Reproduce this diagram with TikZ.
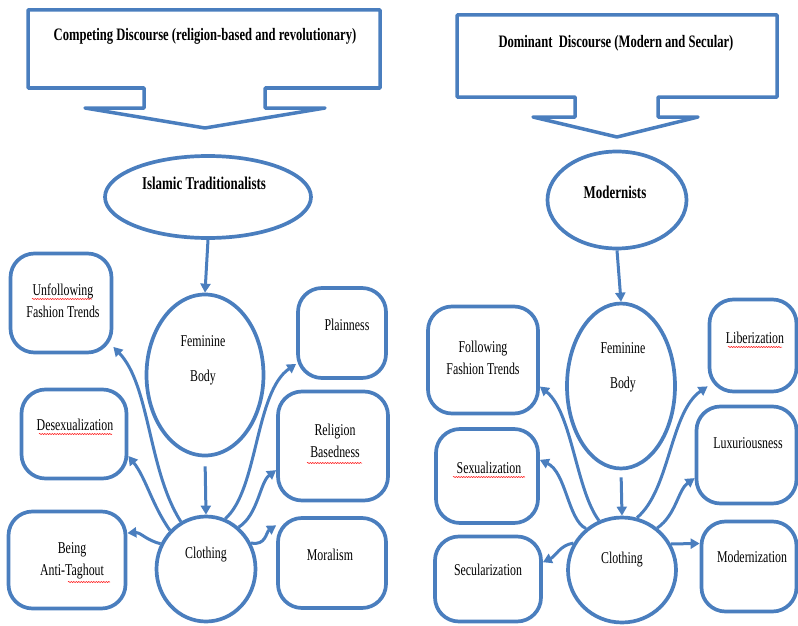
\documentclass[tikz,border=0pt]{standalone}
\usepackage{fontspec}
\setmainfont{Liberation Serif}
\newfontfamily\condfont[FakeStretch=0.72]{Liberation Serif}
\usetikzlibrary{shapes.geometric,arrows.meta,decorations.pathmorphing}
\definecolor{dblue}{RGB}{74,126,190}
\begin{document}
\begin{tikzpicture}[x=1pt,y=-1pt,
  shp/.style={draw=dblue, line width=3.5pt, line join=round},
  boxn/.style={draw=dblue, line width=3.7pt, rounded corners=24pt, inner sep=0pt},
  elln/.style={draw=dblue, line width=3.7pt, ellipse, inner sep=0pt},
  arr/.style={draw=dblue, line width=3pt, -{Triangle[length=9pt,width=10pt]}},
  ttl/.style={font=\condfont\fontsize{17.5}{20}\selectfont\bfseries, inner sep=0pt},
  lbl/.style={font=\condfont\fontsize{18}{21}\selectfont\bfseries, inner sep=0pt},
  txt/.style={font=\condfont\fontsize{16.5}{22}\selectfont, align=center, inner sep=0pt},
  squig/.style={draw=red, line width=0.5pt, decorate, decoration={snake, amplitude=0.6pt, segment length=2.5pt}}
]
\useasboundingbox (0,0) rectangle (798,626);
% ---------- left callout ----------
\draw[shp] (28,10) -- (380,10) -- (380,88) -- (265,88) -- (265,108) -- (325,108) -- (205,128)
  -- (85,108) -- (144,108) -- (144,88) -- (28,88) -- cycle;
\node[ttl] (tL) at (205,36) {Competing Discourse (religion-based and revolutionary)};
% ---------- right callout ----------
\draw[shp] (457,15) -- (777,15) -- (777,97) -- (658,97) -- (658,117) -- (698,117) -- (617,137)
  -- (533,117) -- (575,117) -- (575,97) -- (457,97) -- cycle;
\node[ttl] (tR) at (616,43) {Dominant\ \ Discourse (Modern and Secular)};
% ---------- left ellipses ----------
\node[elln, minimum width=206pt, minimum height=82pt] (islam) at (208,197) {};
\node[lbl] (islamT) at (204,183) {Islamic Traditionalists};
\node[elln, minimum width=117pt, minimum height=161pt] (femL) at (205,375) {};
\node[txt] (femLT) at (203,360) {Feminine\\[13pt]Body};
\node[elln, minimum width=99pt, minimum height=105pt] (clL) at (206,569) {};
\node[txt] (clLT) at (206,555) {Clothing};
% ---------- left boxes ----------
\node[boxn, minimum width=101pt, minimum height=99pt] (unf) at (61,303) {};
\node[txt] (unfT) at (63,301) {Unfollowing\\Fashion Trends};
\node[boxn, minimum width=105pt, minimum height=89pt] (desx) at (74,434) {};
\node[txt] (desxT) at (75,425) {Desexualization};
\node[boxn, minimum width=117pt, minimum height=97pt] (anti) at (67,560) {};
\node[txt] (antiT) at (72,561) {Being\\Anti-Taghout};
\node[boxn, minimum width=88pt, minimum height=90pt] (plain) at (342,333) {};
\node[txt] (plainT) at (347,325) {Plainness};
\node[boxn, minimum width=110pt, minimum height=109pt] (relig) at (333,446) {};
\node[txt] (religT) at (335,441) {Religion\\Basedness};
\node[boxn, minimum width=108pt, minimum height=90pt] (moral) at (332,563) {};
\node[txt] (moralT) at (330,555) {Moralism};
% ---------- right ellipses ----------
\node[elln, minimum width=139pt, minimum height=97pt] (mod) at (617,200) {};
\node[lbl] (modT) at (615,192) {Modernists};
\node[elln, minimum width=108pt, minimum height=165pt] (femR) at (621,386) {};
\node[txt] (femRT) at (623,367) {Feminine\\[13pt]Body};
\node[elln, minimum width=108pt, minimum height=105pt] (clR) at (622,570) {};
\node[txt] (clRT) at (622,560) {Clothing};
% ---------- right boxes ----------
\node[boxn, minimum width=110pt, minimum height=107pt] (follow) at (483,360) {};
\node[txt] (followT) at (483,358) {Following\\Fashion Trends};
\node[boxn, minimum width=102pt, minimum height=94pt] (sexu) at (487,476) {};
\node[txt] (sexuT) at (489,468) {Sexualization};
\node[boxn, minimum width=106pt, minimum height=85pt] (secu) at (488,579) {};
\node[txt] (secuT) at (488,570) {Secularization};
\node[boxn, minimum width=87pt, minimum height=92pt] (liber) at (753,345.5) {};
\node[txt] (liberT) at (755,338) {Liberization};
\node[boxn, minimum width=100pt, minimum height=97pt] (luxu) at (746.5,455) {};
\node[txt] (luxuT) at (748,443) {Luxuriousness};
\node[boxn, minimum width=95pt, minimum height=90pt] (modz) at (749,566.5) {};
\node[txt] (modzT) at (752,557) {Modernization};
% ---------- spell-check squiggles ----------
\draw[squig] (32,299) -- (92,299);
\draw[squig] (39,434) -- (112,434);
\draw[squig] (307,463) -- (362,463);
\draw[squig] (68,582) -- (110,582);
\draw[squig] (728,347) -- (782,347);
\draw[squig] (453,477) -- (525,477);
% ---------- straight arrows ----------
\draw[arr] (islam.south) -- (femL.north);
\draw[arr, shorten <=9pt] (femL.south) -- (clL.north);
\draw[arr] (mod.south) -- (femR.north);
\draw[arr, shorten <=7pt] (femR.south) -- (clR.north);
% ---------- left curved arrows ----------
\draw[arr] (clL.118) .. controls (148,470) and (150,385) .. (unf.-40);
\draw[arr] (clL.133) .. controls (152,505) and (146,478) .. (desx.-22);
\draw[arr] (clL.151) .. controls (146,540) and (140,532) .. (anti.24);
\draw[arr] (clL.69) .. controls (258,490) and (255,392) .. (plain.-146);
\draw[arr] (clL.52) .. controls (258,515) and (260,482) .. (relig.-157);
\draw[arr] (clL.30) .. controls (266,546) and (266,532) .. (moral.146);
% ---------- right curved arrows ----------
\draw[arr] (clR.115) .. controls (576,490) and (572,412) .. (follow.-25);
\draw[arr] (clR.131) .. controls (568,520) and (566,472) .. (sexu.17);
\draw[arr] (clR.151) .. controls (560,545) and (556,556) .. (secu.17);
\draw[arr] (clR.74) .. controls (670,490) and (670,412) .. (liber.-138);
\draw[arr] (clR.50) .. controls (676,515) and (678,490) .. (luxu.-156);
\draw[arr] (clR.28) -- (modz.155);
\end{tikzpicture}
\end{document}
